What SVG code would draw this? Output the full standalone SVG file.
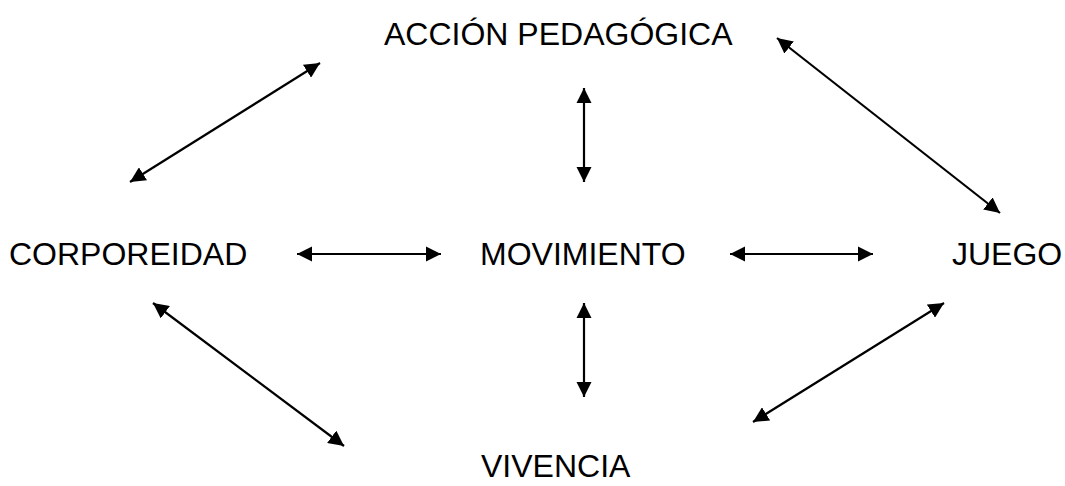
<svg xmlns="http://www.w3.org/2000/svg" width="1065" height="486" viewBox="0 0 1065 486">
<style>
text{font-family:"Liberation Sans",Arial,sans-serif;font-size:32px;fill:#000}
.c line{stroke:#000;stroke-width:2.2}
</style>
<defs>
<marker id="ah" viewBox="0 0 10 10" refX="10" refY="5" markerWidth="7" markerHeight="7" orient="auto-start-reverse" markerUnits="strokeWidth">
<path d="M0,0 L10,5 L0,10 Z" fill="#000"/>
</marker>
</defs>
<rect width="1065" height="486" fill="#fff"/>
<g id="accion"><text x="384" y="45">ACCIÓN PEDAGÓGICA</text></g>
<g id="corporeidad"><text x="9" y="265">CORPOREIDAD</text></g>
<g id="movimiento"><text x="480" y="265">MOVIMIENTO</text></g>
<g id="juego"><text x="952" y="265">JUEGO</text></g>
<g id="vivencia"><text x="481" y="477">VIVENCIA</text></g>
<g class="c" id="connectors">
<line x1="130" y1="182" x2="320" y2="63" marker-start="url(#ah)" marker-end="url(#ah)"/>
<line x1="584" y1="88" x2="584" y2="182" marker-start="url(#ah)" marker-end="url(#ah)"/>
<line x1="777" y1="38" x2="1000" y2="213" marker-start="url(#ah)" marker-end="url(#ah)"/>
<line x1="297" y1="254" x2="441" y2="254" marker-start="url(#ah)" marker-end="url(#ah)"/>
<line x1="730" y1="254" x2="873" y2="254" marker-start="url(#ah)" marker-end="url(#ah)"/>
<line x1="153" y1="303" x2="344" y2="446" marker-start="url(#ah)" marker-end="url(#ah)"/>
<line x1="584" y1="303" x2="584" y2="397" marker-start="url(#ah)" marker-end="url(#ah)"/>
<line x1="944" y1="303" x2="753" y2="422" marker-start="url(#ah)" marker-end="url(#ah)"/>
</g>
</svg>
